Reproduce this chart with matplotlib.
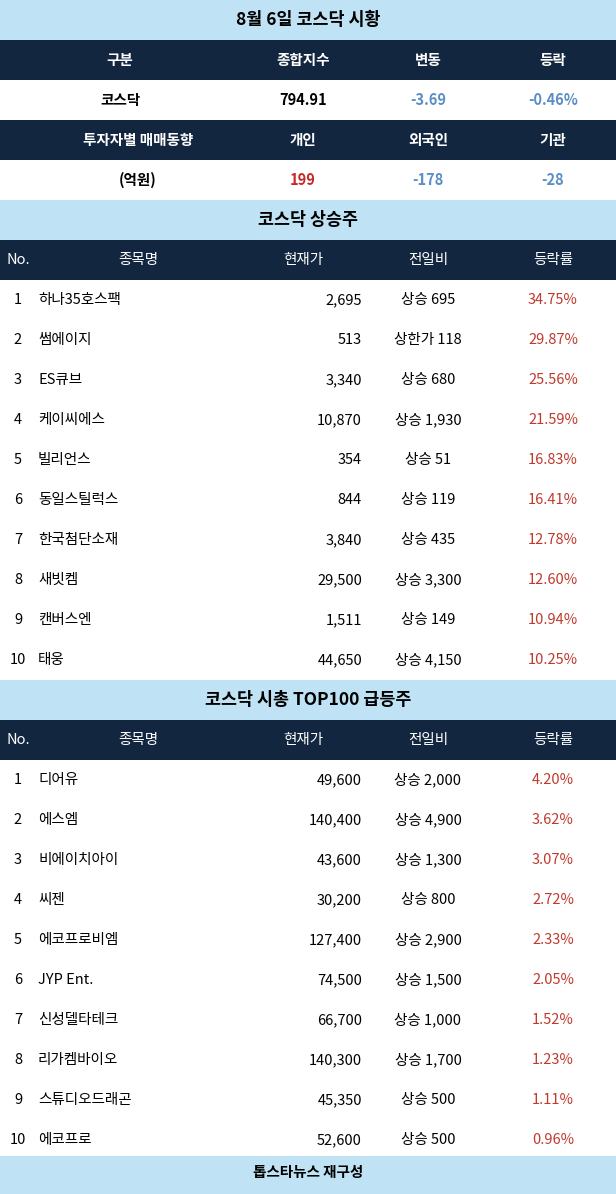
import matplotlib.pyplot as plt
from matplotlib.patches import Rectangle

plt.rcParams["font.family"] = "Noto Sans CJK KR"

title_main = "8월 6일 코스닥 시황"
summary_head = ["구분", "종합지수", "변동", "등락"]
summary_vals = ["코스닥", "794.91", "-3.69", "-0.46%"]
investor_head = ["투자자별 매매동향", "개인", "외국인", "기관"]
investor_vals = ["(억원)", "199", "-178", "-28"]
table_head = ["No.", "종목명", "현재가", "전일비", "등락률"]

rise_title = "코스닥 상승주"
rise_names = ["하나35호스팩", "썸에이지", "ES큐브", "케이씨에스", "빌리언스", "동일스틸럭스",
              "한국첨단소재", "새빗켐", "캔버스엔", "태웅"]
rise_price = ["2,695", "513", "3,340", "10,870", "354", "844", "3,840", "29,500", "1,511", "44,650"]
rise_diff = ["상승 695", "상한가 118", "상승 680", "상승 1,930", "상승 51", "상승 119",
             "상승 435", "상승 3,300", "상승 149", "상승 4,150"]
rise_pct = ["34.75%", "29.87%", "25.56%", "21.59%", "16.83%", "16.41%", "12.78%", "12.60%", "10.94%", "10.25%"]

top_title = "코스닥 시총 TOP100 급등주"
top_names = ["디어유", "에스엠", "비에이치아이", "씨젠", "에코프로비엠", "JYP Ent.",
             "신성델타테크", "리가켐바이오", "스튜디오드래곤", "에코프로"]
top_price = ["49,600", "140,400", "43,600", "30,200", "127,400", "74,500", "66,700", "140,300", "45,350", "52,600"]
top_diff = ["상승 2,000", "상승 4,900", "상승 1,300", "상승 800", "상승 2,900", "상승 1,500",
            "상승 1,000", "상승 1,700", "상승 500", "상승 500"]
top_pct = ["4.20%", "3.62%", "3.07%", "2.72%", "2.33%", "2.05%", "1.52%", "1.23%", "1.11%", "0.96%"]

footer = "톱스타뉴스 재구성"

LIGHT = "#bfe3f4"
NAVY = "#13263f"
RED = "#c62828"
PCTRED = "#c0392b"
BLUE = "#5b8ec6"
W, H = 616, 1194

fig = plt.figure(figsize=(W / 100, H / 100), dpi=100)
ax = fig.add_axes([0, 0, 1, 1])
ax.set_xlim(0, W)
ax.set_ylim(H, 0)
ax.axis("off")

def band(y, h, color):
    ax.add_patch(Rectangle((0, y), W, h, color=color, lw=0))

def txt(x, y, s, color="black", ha="center", size=10.5, bold=False):
    ax.text(x, y, s, color=color, ha=ha, va="center", fontsize=size,
            fontweight="bold" if bold else "normal")

# market summary
band(0, 40, LIGHT)
txt(308, 20, title_main, size=12.5, bold=True)
cols4 = [120, 303, 428, 553]
band(40, 40, NAVY)
for x, s in zip(cols4, summary_head):
    txt(x, 60, s, color="white", bold=True)
for x, s, c in zip(cols4, summary_vals, ["black", "black", BLUE, BLUE]):
    txt(x, 100, s, color=c, bold=True)
band(120, 40, NAVY)
cols4b = [138, 303, 428, 553]
for x, s in zip(cols4b, investor_head):
    txt(x, 140, s, color="white", bold=True)
for x, s, c in zip(cols4b, investor_vals, ["black", RED, BLUE, BLUE]):
    txt(x, 180, s, color=c, bold=True)

def stock_table(y0, title, names, price, diff, pct):
    band(y0, 40, LIGHT)
    txt(308, y0 + 20, title, size=12.5, bold=True)
    band(y0 + 40, 40, NAVY)
    hx = [7, 138, 303, 428, 553]
    for i, (x, s) in enumerate(zip(hx, table_head)):
        txt(x, y0 + 60, s, color="white", ha="left" if i == 0 else "center")
    for i in range(len(names)):
        y = y0 + 100 + 40 * i
        txt(18, y, str(i + 1), ha="center")
        txt(38, y, names[i], ha="left")
        txt(362, y, price[i], ha="right")
        txt(428, y, diff[i])
        txt(553, y, pct[i], color=PCTRED)

stock_table(200, rise_title, rise_names, rise_price, rise_diff, rise_pct)
stock_table(680, top_title, top_names, top_price, top_diff, top_pct)

band(1156, 38, LIGHT)
txt(308, 1172, footer, size=10.5, bold=True)

fig.savefig("out.png", dpi=100)
